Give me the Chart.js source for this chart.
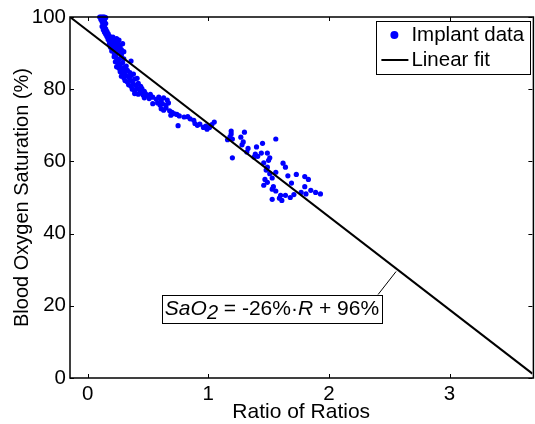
<!DOCTYPE html>
<html>
<head>
<meta charset="utf-8">
<script src="https://cdn.jsdelivr.net/npm/chart.js@4.4.1/dist/chart.umd.min.js"></script>
<style>
  html, body { margin: 0; padding: 0; background: #fff; }
  canvas { display: block; }
</style>
</head>
<body>
<canvas id="c" width="535" height="424"></canvas>
<script>
// ---- data ----
const xTicks = [0, 1, 2, 3];
const yTicks = [0, 20, 40, 60, 80, 100];
const xLimits = [-0.146, 3.687];
const yLimits = [0, 100];

// Ratio of ratios (R) and SaO2 (%) pairs for the implant data
const implantPoints = [
  [0.10,100],[0.11,100],[0.12,100],[0.13,100],[0.14,100],[0.15,99.8],[0.11,99.3],[0.13,99.4],
  [0.12,98.7],[0.14,98.8],[0.13,98.0],[0.15,98.2],[0.12,97.4],[0.14,97.2],[0.13,96.5],[0.15,96.7],
  [0.14,95.8],[0.16,96.0],[0.15,95.2],[0.17,95.4],[0.16,94.6],[0.18,94.8],[0.19,94.2],[0.21,94.4],
  [0.22,93.8],[0.24,94.0],[0.17,93.8],[0.19,93.2],[0.21,93.0],[0.23,93.4],[0.25,93.0],[0.26,93.6],
  [0.18,92.6],[0.20,92.4],[0.22,92.0],[0.24,92.2],[0.27,92.0],[0.29,92.6],[0.19,91.6],[0.21,91.2],
  [0.23,90.8],[0.25,91.4],[0.28,91.0],[0.20,90.6],[0.22,90.0],[0.24,89.8],[0.26,90.2],[0.28,89.6],
  [0.30,90.4],[0.22,89.0],[0.24,88.6],[0.26,88.2],[0.28,88.8],[0.30,88.4],[0.23,87.6],[0.25,87.2],
  [0.27,86.8],[0.29,87.4],[0.36,87.8],[0.24,86.2],[0.26,85.8],[0.28,85.4],[0.30,86.0],[0.32,86.4],
  [0.27,84.8],[0.29,84.4],[0.31,84.8],[0.33,85.2],[0.35,84.6],[0.28,83.6],[0.30,83.2],[0.32,83.8],
  [0.34,83.4],[0.36,83.8],[0.38,84.2],[0.31,82.4],[0.33,82.0],[0.35,82.6],[0.37,82.2],[0.39,82.8],
  [0.41,83.0],[0.34,81.2],[0.36,80.8],[0.38,81.4],[0.40,81.0],[0.42,81.6],[0.44,80.8],[0.37,80.0],
  [0.39,79.6],[0.41,80.2],[0.43,79.8],[0.45,80.2],[0.47,79.4],[0.39,78.8],[0.42,78.6],[0.44,79.0],
  [0.46,78.4],[0.48,78.8],[0.50,78.2],[0.52,78.6],[0.47,77.6],[0.51,77.4],[0.54,77.8],[0.54,76.0],
  [0.57,77.2],[0.59,77.8],[0.61,77.0],[0.63,77.6],[0.66,77.0],[0.58,76.2],[0.60,75.6],[0.62,76.0],
  [0.65,75.6],[0.67,76.2],[0.61,74.6],[0.63,74.2],[0.65,74.8],[0.68,74.0],[0.70,73.6],[0.72,73.2],
  [0.69,72.8],[0.74,73.0],[0.76,72.6],[0.75,69.9],
  [0.80,72.3],[0.83,72.4],[0.85,71.8],[0.88,71.4],[0.89,70.5],[0.91,70.0],[0.93,70.3],[0.96,69.4],
  [0.98,69.8],[0.99,68.9],[1.01,69.4],[1.03,70.2],[1.05,70.9],
  [1.16,66.0],[1.18,66.8],[1.19,67.6],[1.19,68.4],[1.20,66.2],[1.20,61.0],[1.27,66.7],[1.30,68.1],
  [1.28,64.6],[1.29,65.4],[1.32,62.6],[1.33,63.6],[1.38,61.2],[1.39,62.0],[1.41,61.4],[1.40,64.0],
  [1.45,65.0],[1.56,66.2],[1.44,62.3],[1.49,62.3],[1.50,60.3],[1.51,61.0],[1.46,59.6],[1.48,57.6],
  [1.49,58.4],[1.56,57.0],[1.62,59.5],[1.64,58.4],[1.73,56.4],[1.66,56.0],[1.80,55.8],[1.83,55.0],
  [1.53,55.4],[1.49,54.2],[1.46,53.4],[1.53,52.3],[1.54,53.0],[1.56,51.8],[1.69,54.0],[1.53,49.5],
  [1.59,49.8],[1.60,50.6],[1.61,49.2],[1.64,50.6],[1.68,50.0],[1.71,50.8],[1.77,51.4],[1.80,53.0],
  [1.81,51.0],[1.85,52.0],[1.89,51.4],[1.93,51.0],[1.51,56.6],[1.47,55.0]
];

// Linear fit drawn as a segment across the axes
const fitR = [-0.146, 3.687];
const fitSaO2 = [100, 1.2];

// Equation label anchored on the fit line
const eqAnchorR = 2.557;
const eqAnchorS = 29.5;

const FONT = "'Liberation Sans', Arial, Helvetica, sans-serif";
const BLUE = '#0000ff';

const matlabPlugin = {
  id: 'matlabDecor',
  afterDatasetsDraw(chart) {
    const { ctx, chartArea: a, scales: { x, y } } = chart;
    ctx.save();
    // axes box (right edge falls just outside the canvas, as in the reference)
    ctx.strokeStyle = '#000';
    ctx.lineWidth = 1.5;
    ctx.strokeRect(a.left, a.top, a.right - a.left + 1, a.bottom - a.top);
    // inward ticks
    ctx.lineWidth = 1;
    const tl = 4;
    ctx.beginPath();
    x.ticks.forEach(t => {
      const px = Math.round(x.getPixelForValue(t.value)) + 0.5;
      ctx.moveTo(px, a.bottom); ctx.lineTo(px, a.bottom - tl);
      ctx.moveTo(px, a.top); ctx.lineTo(px, a.top + tl);
    });
    y.ticks.forEach(t => {
      const py = Math.round(y.getPixelForValue(t.value)) + 0.5;
      ctx.moveTo(a.left, py); ctx.lineTo(a.left + tl, py);
      ctx.moveTo(a.right, py); ctx.lineTo(a.right - tl, py);
    });
    ctx.stroke();

    // equation annotation
    const ax = x.getPixelForValue(eqAnchorR);
    const ay = y.getPixelForValue(eqAnchorS);
    const parts = [
      { t: 'SaO', f: 'italic 21px ' + FONT, dy: 0 },
      { t: '2', f: 'italic 20px ' + FONT, dy: 4 },
      { t: ' = -26%\u00b7', f: '21px ' + FONT, dy: 0 },
      { t: 'R', f: 'italic 21px ' + FONT, dy: 0 },
      { t: ' + 96%', f: '21px ' + FONT, dy: 0 }
    ];
    let tw = 0;
    parts.forEach(p => { ctx.font = p.f; p.w = ctx.measureText(p.t).width; tw += p.w; });
    const boxW = tw + 6, boxH = 28;
    const boxR = ax - 14, boxT = ay + 23;
    const boxL = boxR - boxW;
    ctx.fillStyle = '#fff';
    ctx.fillRect(boxL, boxT, boxW, boxH);
    ctx.strokeStyle = '#000';
    ctx.lineWidth = 1;
    ctx.strokeRect(Math.round(boxL) + 0.5, Math.round(boxT) + 0.5, Math.round(boxW), boxH);
    ctx.beginPath();
    ctx.moveTo(boxR - 4, boxT);
    ctx.lineTo(ax, ay);
    ctx.stroke();
    ctx.fillStyle = '#000';
    ctx.textBaseline = 'alphabetic';
    ctx.textAlign = 'left';
    let cx = boxL + 3;
    const base = boxT + 20;
    parts.forEach(p => { ctx.font = p.f; ctx.fillText(p.t, cx, base + p.dy); cx += p.w; });

    // legend
    const lw = 154, lh = 53;
    const lr = a.right - 2, lt = a.top + 4;
    const ll = lr - lw;
    ctx.fillStyle = '#fff';
    ctx.fillRect(ll, lt, lw, lh);
    ctx.strokeStyle = '#000';
    ctx.lineWidth = 1;
    ctx.strokeRect(Math.round(ll) + 0.5, Math.round(lt) + 0.5, lw, lh);
    ctx.fillStyle = BLUE;
    ctx.beginPath();
    ctx.arc(ll + 18, lt + 14, 4, 0, Math.PI * 2);
    ctx.fill();
    ctx.strokeStyle = '#000';
    ctx.lineWidth = 2;
    ctx.beginPath();
    ctx.moveTo(ll + 5, lt + 39);
    ctx.lineTo(ll + 32, lt + 39);
    ctx.stroke();
    ctx.fillStyle = '#000';
    ctx.font = '20.5px ' + FONT;
    ctx.textBaseline = 'middle';
    ctx.fillText('Implant data', ll + 35, lt + 14.5);
    ctx.fillText('Linear fit', ll + 35, lt + 39.5);
    ctx.restore();
  }
};

new Chart(document.getElementById('c'), {
  type: 'scatter',
  data: {
    datasets: [
      {
        label: 'Linear fit',
        data: fitR.map((r, i) => ({ x: r, y: fitSaO2[i] })),
        showLine: true,
        borderColor: '#000',
        borderWidth: 2,
        pointRadius: 0,
        fill: false,
        order: 0
      },
      {
        label: 'Implant data',
        data: implantPoints.map(p => ({ x: p[0], y: p[1] })),
        backgroundColor: BLUE,
        borderWidth: 0,
        pointRadius: 2.6,
        pointHoverRadius: 2.6,
        clip: false,
        order: 1
      }
    ]
  },
  options: {
    responsive: false,
    animation: false,
    devicePixelRatio: 1,
    layout: { padding: { top: 17, right: 0, left: 0, bottom: 0 } },
    plugins: { legend: { display: false }, tooltip: { enabled: false } },
    scales: {
      x: {
        type: 'linear',
        min: xLimits[0], max: xLimits[1],
        afterBuildTicks: s => { s.ticks = xTicks.map(v => ({ value: v })); },
        afterFit: s => { s.height = 46; s.paddingLeft = 0; s.paddingRight = 0; },
        grid: { display: false, drawTicks: false },
        border: { display: false },
        ticks: { color: '#000', font: { family: FONT, size: 20.5 }, padding: 4, maxRotation: 0, autoSkip: false },
        title: { display: true, text: 'Ratio of Ratios', color: '#000', font: { family: FONT, size: 21 }, padding: { top: 0, bottom: -1 } }
      },
      y: {
        type: 'linear',
        min: yLimits[0], max: yLimits[1],
        afterBuildTicks: s => { s.ticks = yTicks.map(v => ({ value: v })); },
        afterFit: s => { s.width = 70; },
        grid: { display: false, drawTicks: false },
        border: { display: false },
        ticks: { color: '#000', font: { family: FONT, size: 20.5 }, padding: 4, autoSkip: false },
        title: { display: true, text: 'Blood Oxygen Saturation (%)', color: '#000', font: { family: FONT, size: 20 }, padding: { top: 10, bottom: 0 } }
      }
    }
  },
  plugins: [matlabPlugin]
});
</script>
</body>
</html>
